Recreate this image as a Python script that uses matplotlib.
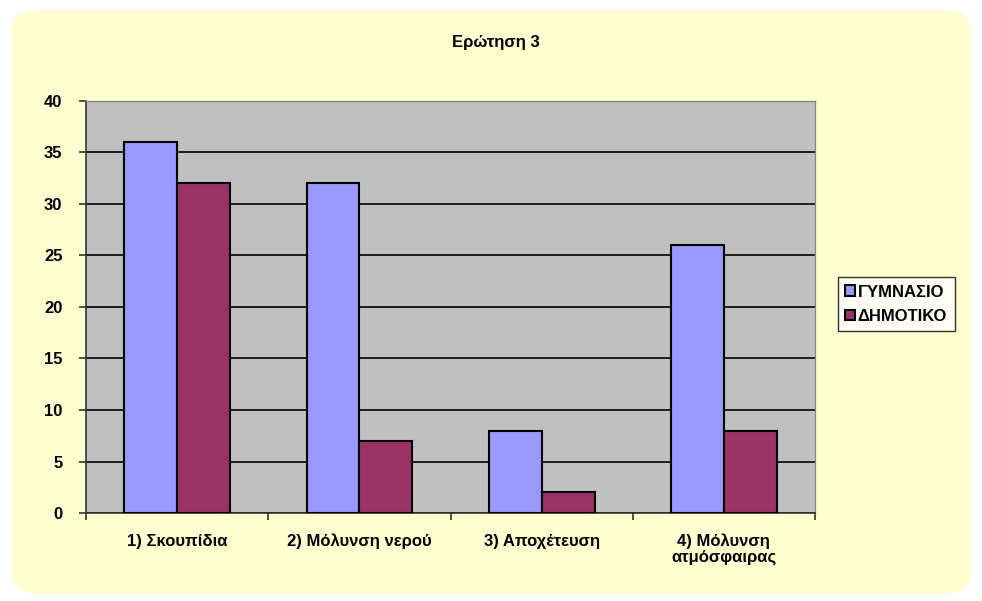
import matplotlib.pyplot as plt
import numpy as np
from matplotlib.patches import FancyBboxPatch

# data
categories = ['1) Σκουπίδια', '2) Μόλυνση νερού', '3) Αποχέτευση', '4) Μόλυνση\nατμόσφαιρας']
gymnasio = [36, 32, 8, 26]
dimotiko = [32, 7, 2, 8]
series_names = ['ΓΥΜΝΑΣΙΟ', 'ΔΗΜΟΤΙΚΟ']
yticks = [0, 5, 10, 15, 20, 25, 30, 35, 40]

plt.rcParams['font.family'] = ['Liberation Sans', 'DejaVu Sans']

fig = plt.figure(figsize=(9.82, 6.01), dpi=100)
fig.patch.set_facecolor('white')

# pale yellow rounded background
bg = FancyBboxPatch((0.012, 0.012), 0.976, 0.972, boxstyle='round,pad=0,rounding_size=0.03',
                    transform=fig.transFigure, facecolor='#FFFFD2', edgecolor='none', zorder=-10)
fig.patches.append(bg)

ax = fig.add_axes([0.0876, 0.1464, 0.7424, 0.6856])
ax.set_facecolor('#C0C0C0')

x = np.arange(len(categories))
w = 0.29
ax.bar(x - w / 2, gymnasio, w, color='#9999FF', edgecolor='black', linewidth=1.5,
       label=series_names[0], zorder=3)
ax.bar(x + w / 2, dimotiko, w, color='#993366', edgecolor='black', linewidth=1.5,
       label=series_names[1], zorder=3)

ax.set_xlim(-0.5, len(categories) - 0.5)
ax.set_ylim(0, 40)
ax.set_yticks(yticks)
ax.set_yticklabels([str(v) for v in yticks], fontweight='bold', fontsize=12)
ax.set_xticks(x)
ax.set_xticklabels(categories, fontweight='bold', fontsize=12, linespacing=1.0)
ax.set_xticks(np.arange(len(categories) + 1) - 0.5, minor=True)
ax.tick_params(axis='x', which='major', length=0, pad=15)
ax.tick_params(axis='x', which='minor', length=5, width=1.2, color='#333333')
ax.tick_params(axis='y', length=5, width=1.2, color='#333333', pad=12)

ax.yaxis.grid(True, color='black', linewidth=1.2, zorder=1)
ax.set_axisbelow(True)
for side in ['left', 'bottom']:
    ax.spines[side].set_color('#333333')
    ax.spines[side].set_linewidth(1.2)
for side in ['top', 'right']:
    ax.spines[side].set_color('#888888')
    ax.spines[side].set_linewidth(1.0)

fig.text(0.505, 0.93, 'Ερώτηση 3', ha='center', va='center', fontsize=12, fontweight='bold')

leg = fig.legend(loc='center left', bbox_to_anchor=(0.853, 0.494), frameon=True,
                 fancybox=False, handlelength=0.6, handleheight=0.6, handletextpad=0.15,
                 borderpad=0.45, borderaxespad=0, labelspacing=0.55,
                 prop={'weight': 'bold', 'size': 12})
leg.get_frame().set_edgecolor('black')
leg.get_frame().set_linewidth(1.0)
leg.get_frame().set_facecolor('white')

fig.savefig('out.png', dpi=100, facecolor=fig.get_facecolor())
